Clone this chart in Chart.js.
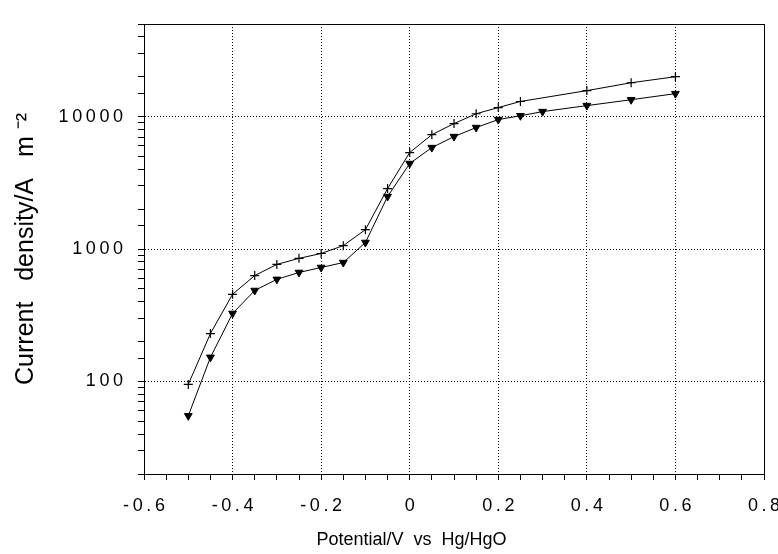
<!DOCTYPE html>
<html>
<head>
<meta charset="utf-8">
<script src="https://cdn.jsdelivr.net/npm/chart.js@4"></script>
<style>
  html, body { margin: 0; padding: 0; background: #fff; }
  #wrap { width: 778px; height: 554px; }
</style>
</head>
<body>
<div id="wrap"><canvas id="chart"></canvas></div>
<script>
// Potential (V vs Hg/HgO)
const potential = [-0.5, -0.45, -0.4, -0.35, -0.3, -0.25, -0.2, -0.15, -0.1, -0.05, 0, 0.05, 0.1, 0.15, 0.2, 0.25, 0.4, 0.5, 0.6];
const crossSeries = [95, 230, 455, 630, 765, 850, 925, 1060, 1400, 2860, 5350, 7300, 8850, 10500, 11700, 13000, 15700, 18000, 20000];

const potential2 = [-0.5, -0.45, -0.4, -0.35, -0.3, -0.25, -0.2, -0.15, -0.1, -0.05, 0, 0.05, 0.1, 0.15, 0.2, 0.25, 0.3, 0.4, 0.5, 0.6];
const triangleSeries = [55, 152, 326, 486, 590, 665, 725, 790, 1120, 2490, 4420, 5830, 7060, 8260, 9490, 10140, 10900, 12100, 13400, 14900];

const yLabels = [100, 1000, 10000];
const xLabels = [-0.6, -0.4, -0.2, 0, 0.2, 0.4, 0.6, 0.8];

const font = 'Liberation Sans, Arial, sans-serif';

function isMajorX(v) {
    return xLabels.some(l => Math.abs(l - v) < 1e-6);
}
function isDecade(v) {
    return yLabels.includes(Math.round(v));
}
// the old plot spaces its tick digits out a little
function spaced(s) {
    return s.split('').join('\u2009');
}

// frame around the plot area
const framePlugin = {
    id: 'frame',
    afterDraw(chart) {
        const { ctx, chartArea: a } = chart;
        ctx.save();
        ctx.strokeStyle = '#000';
        ctx.lineWidth = 1;
        ctx.strokeRect(a.left + 0.5, a.top + 0.5, a.right - a.left, a.bottom - a.top);
        ctx.restore();
    }
};

const ctx = document.getElementById('chart').getContext('2d');
new Chart(ctx, {
    type: 'line',
    data: {
        datasets: [
            {
                data: potential.map((x, i) => ({ x, y: crossSeries[i] })),
                borderColor: '#000',
                borderWidth: 1,
                pointStyle: 'cross',
                pointRadius: 4.5,
                pointBorderColor: '#000',
                pointBorderWidth: 1.2,
                fill: false
            },
            {
                data: potential2.map((x, i) => ({ x, y: triangleSeries[i] })),
                borderColor: '#000',
                borderWidth: 1,
                pointStyle: 'triangle',
                pointRotation: 180,
                pointRadius: 4.5,
                pointBackgroundColor: '#000',
                pointBorderColor: '#000',
                fill: false
            }
        ]
    },
    options: {
        responsive: true,
        maintainAspectRatio: false,
        animation: false,
        layout: { padding: { top: 24, right: 14, left: 0, bottom: 0 } },
        plugins: {
            legend: { display: false },
            tooltip: { enabled: false }
        },
        scales: {
            x: {
                type: 'linear',
                min: -0.6,
                max: 0.8,
                afterFit: s => { s.height = 80; s.paddingRight = 0; s.paddingLeft = 0; },
                ticks: {
                    stepSize: 0.05,
                    autoSkip: false,
                    maxRotation: 0,
                    padding: 15,
                    color: '#000',
                    font: { family: font, size: 18 },
                    callback: v => isMajorX(v) ? spaced(Math.abs(v) < 1e-6 ? '0' : (Math.round(v * 10) / 10).toFixed(1)) : ''
                },
                grid: {
                    color: c => (c.tick && isMajorX(c.tick.value) && Math.abs(c.tick.value + 0.6) > 1e-6 && Math.abs(c.tick.value - 0.8) > 1e-6) ? '#000' : 'rgba(0,0,0,0)',
                    tickColor: '#000',
                    tickLength: 6,
                    lineWidth: 1
                },
                border: { display: true, color: '#000', width: 1, dash: [1, 2] },
                title: {
                    display: true,
                    text: 'Potential/V  vs  Hg/HgO                 ',
                    color: '#000',
                    font: { family: font, size: 18 },
                    padding: { top: 3, bottom: 3 }
                }
            },
            y: {
                type: 'logarithmic',
                min: 20,
                max: 50000,
                afterFit: s => { s.width = 144; s.paddingTop = 0; s.paddingBottom = 0; },
                ticks: {
                    autoSkip: false,
                    padding: 15,
                    color: '#000',
                    font: { family: font, size: 18 },
                    callback: v => isDecade(v) ? spaced(String(Math.round(v))) : ''
                },
                grid: {
                    color: c => (c.tick && isDecade(c.tick.value)) ? '#000' : 'rgba(0,0,0,0)',
                    tickColor: '#000',
                    tickLength: 6,
                    lineWidth: 1
                },
                border: { display: true, color: '#000', width: 1, dash: [1, 2] },
                title: {
                    display: true,
                    text: 'Current   density/A   m \u207B\u00B2',
                    color: '#000',
                    font: { family: font, size: 25 },
                    padding: { top: 11, bottom: 11 }
                }
            }
        }
    },
    plugins: [framePlugin]
});
</script>
</body>
</html>
